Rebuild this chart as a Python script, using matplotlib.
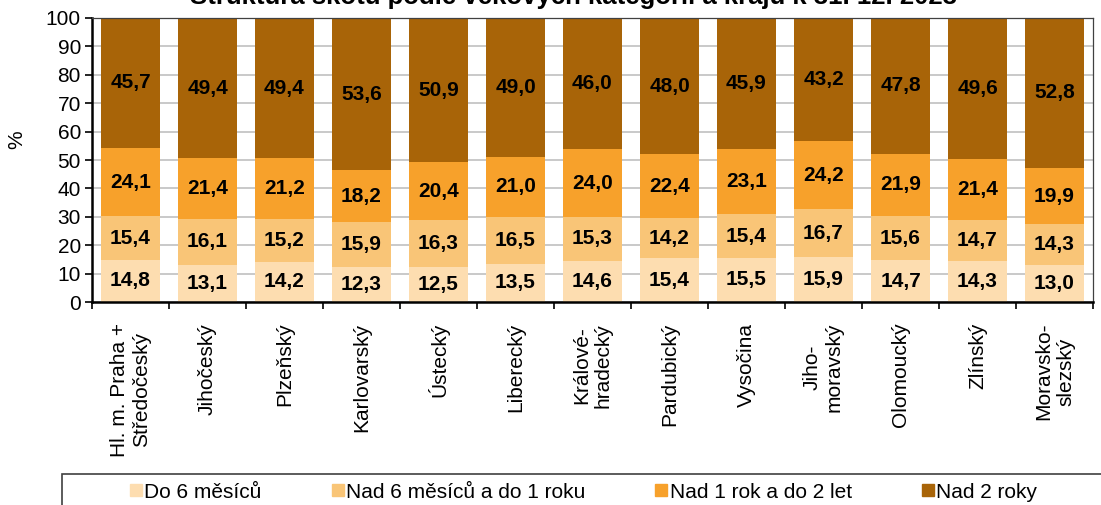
import numpy as np
import matplotlib
matplotlib.use("Agg")
import matplotlib.pyplot as plt
from matplotlib.lines import Line2D
from matplotlib.patches import Rectangle

plt.rcParams['font.family'] = ['Liberation Sans', 'DejaVu Sans']

# data
kraje = ["Hl. m. Praha +\nStředočeský", "Jihočeský", "Plzeňský", "Karlovarský",
         "Ústecký", "Liberecký", "Králové-\nhradecký", "Pardubický", "Vysočina",
         "Jiho-\nmoravský", "Olomoucký", "Zlínský", "Moravsko-\nslezský"]
kategorie = ["Do 6 měsíců", "Nad 6 měsíců a do 1 roku", "Nad 1 rok a do 2 let", "Nad 2 roky"]
do6m = [14.8, 13.1, 14.2, 12.3, 12.5, 13.5, 14.6, 15.4, 15.5, 15.9, 14.7, 14.3, 13.0]
do1r = [15.4, 16.1, 15.2, 15.9, 16.3, 16.5, 15.3, 14.2, 15.4, 16.7, 15.6, 14.7, 14.3]
do2l = [24.1, 21.4, 21.2, 18.2, 20.4, 21.0, 24.0, 22.4, 23.1, 24.2, 21.9, 21.4, 19.9]
nad2 = [45.7, 49.4, 49.4, 53.6, 50.9, 49.0, 46.0, 48.0, 45.9, 43.2, 47.8, 49.6, 52.8]
barvy = ["#FDDDB0", "#F9C577", "#F7A12B", "#A86408"]

FS = 15

fig = plt.figure(figsize=(11.01, 5.05), dpi=100)
ax = fig.add_axes([92/1101, 1 - 302/505, (1093 - 92)/1101, (302 - 18)/505])

x = np.arange(len(kraje))
bottom = np.zeros(len(kraje))
for vals, c, name in zip([do6m, do1r, do2l, nad2], barvy, kategorie):
    bars = ax.bar(x, vals, width=0.77, bottom=bottom, color=c, label=name, zorder=2)
    ax.bar_label(bars, labels=[f"{v:.1f}".replace(".", ",") for v in vals],
                 label_type='center', fontsize=FS, fontweight='bold')
    bottom += np.array(vals)

ax.set_xlim(-0.5, len(kraje) - 0.5)
ax.set_ylim(0, 100)
ax.set_yticks(np.arange(0, 101, 10))
ax.yaxis.grid(True, color="#C0C0C0", lw=1.2, zorder=0)
ax.set_axisbelow(True)
ax.tick_params(axis='y', labelsize=FS, length=5, width=1.2, direction='out', pad=3)

ax.set_xticks(x)
ax.set_xticklabels(kraje, rotation=90, fontsize=FS, ha='center', va='top',
                   multialignment='center')
ax.set_xticks(np.arange(-0.5, len(kraje), 1), minor=True)
ax.tick_params(axis='x', which='major', length=0, pad=15)
ax.tick_params(axis='x', which='minor', length=5, width=1.2, direction='out')

for s in ['left', 'bottom']:
    ax.spines[s].set_linewidth(1.8)
    ax.spines[s].set_color('black')
for s in ['top', 'right']:
    ax.spines[s].set_linewidth(0.9)
    ax.spines[s].set_color('#404040')

fig.text(17/1101, 1 - 140/505, "%", rotation=90, fontsize=FS, ha='center', va='center')

fig.text(573/1101, 1 - 4/505, "Struktura skotu podle věkových kategorií a krajů k 31. 12. 2023",
         fontsize=18.5, fontweight='bold', ha='center', va='baseline')

# legend box
fig.patches.append(Rectangle((62/1101, -0.05), 1.0, 0.05 + 31/505, transform=fig.transFigure,
                             fill=False, edgecolor='#404040', lw=1.2))
handles = [Line2D([], [], marker='s', ls='', color=c, markersize=8) for c in barvy]
fig.legend(handles, kategorie, loc='center', bbox_to_anchor=(584/1101, 1 - 492/505),
           ncol=4, frameon=False, fontsize=FS, handlelength=0.5, handletextpad=0.15,
           columnspacing=3.4)

fig.savefig("out.png", dpi=100)
